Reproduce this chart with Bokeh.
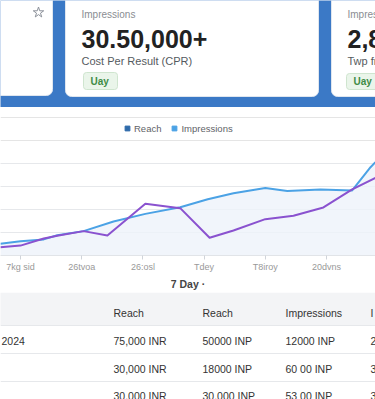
from bokeh.plotting import figure
from bokeh.layouts import column
from bokeh.models import Range1d, FixedTicker, Grid, Legend, LegendItem, Span
from bokeh.core.properties import value
from bokeh.embed import file_html
from bokeh.resources import INLINE

FONT = "Liberation Sans"
W = 375
BLUE = "#3b79c6"

# ---------------- data ----------------
days = [-0.33, 0, 0.38, 0.6, 1.03, 1.52, 2.04, 2.61, 3.06, 3.48, 4.0, 4.36, 4.9, 5.42, 5.72, 5.8]
impressions = [5.1, 6.2, 7.0, 8.8, 10.6, 14.8, 18.1, 21.0, 24.5, 27.1, 29.4, 28.1, 28.7, 28.3, 38.4, 40.6]
reach_days = [-0.33, 0, 0.38, 0.6, 1.03, 1.42, 2.04, 2.61, 3.09, 3.48, 4.0, 4.46, 4.95, 5.42, 5.8]
reach = [3.6, 4.3, 7.4, 8.6, 10.6, 8.7, 22.5, 20.6, 7.7, 10.9, 15.8, 17.3, 20.9, 28.8, 33.8]
tick_pos = [0, 1, 2, 3, 4, 5]
tick_labels = ["7kg sid", "26tvoa", "26:osl", "Tdey", "T8iroy", "20dvns"]
grid_vals = [10, 20, 30, 40]
legend_labels = ["Reach", "Impressions"]

card_titles = ["Impressions", "Impres"]
card_values = ["30.50,000+", "2,8"]
card_subtitles = ["Cost Per Result (CPR)", "Twp fr"]
card_badges = ["Uay", "Uay"]

table_header = ["", "Reach", "Reach", "Impressions", "I"]
table_rows = [
    ["2024", "75,000 INR", "50000 INP", "12000 INP", "2"],
    ["", "30,000 INR", "18000 INP", "60 00 INP", "3"],
    ["", "30,000 INR", "30,000 INP", "53 00 INP", "3"],
]


def bare(fig):
    fig.outline_line_color = None
    fig.xgrid.visible = False
    fig.ygrid.visible = False


# ---------------- top band with cards ----------------
top = figure(width=W, height=107, x_range=Range1d(0, W), y_range=Range1d(107, 0),
             toolbar_location=None, output_backend="svg", min_border=0,
             x_axis_location=None, y_axis_location=None)
bare(top)
top.background_fill_color = BLUE
top.border_fill_color = BLUE

card_left = [-10, 65, 331]
card_right = [52, 318, 395]
top.quad(left=card_left, right=card_right, top=[-10] * 3, bottom=[95, 96, 96],
         fill_color="white", line_color="#dfe6ef", line_width=1, border_radius=6)
top.scatter(x=[38], y=[12], marker="star", size=11, fill_color=None,
            line_color="#8c919a", line_width=1)

tx = [81, 347]
top.text(x=tx, y=[14, 14], text=card_titles, text_font=value(FONT),
         text_font_size="10px", text_color="#8a8d92", text_baseline="middle")
top.text(x=tx, y=[38, 38], text=card_values, text_font=value(FONT),
         text_font_size="25px", text_font_style="bold", text_color="#222222",
         text_baseline="middle")
top.text(x=tx, y=[60, 60], text=card_subtitles, text_font=value(FONT),
         text_font_size="11px", text_color="#555a60", text_baseline="middle")
top.quad(left=[83, 346], right=[117, 380], top=[72, 73], bottom=[89, 89],
         fill_color="#eaf5ea", line_color="#cfe5cf", border_radius=3)
top.text(x=[90, 353], y=[81, 81], text=card_badges, text_font=value(FONT),
         text_font_size="10px", text_font_style="bold", text_color="#3f8c46",
         text_baseline="middle")

# ---------------- line chart ----------------
p = figure(width=W, height=185, x_range=Range1d(-0.327, 5.801), y_range=Range1d(0, 60.9),
           toolbar_location=None, output_backend="svg", y_axis_location=None,
           min_border_left=0, min_border_right=0, min_border_top=8, min_border_bottom=37)
p.outline_line_color = None
p.xgrid.visible = False
p.add_layout(Grid(dimension=1, ticker=FixedTicker(ticks=grid_vals),
                  grid_line_color="#e6e8eb", grid_line_width=1))

p.varea(x=days, y1=[0] * len(days), y2=impressions, fill_color="#eef3fa", fill_alpha=0.8)
p.line(days, impressions, line_color="#4ba2e5", line_width=2, line_join="round")
p.line(reach_days, reach, line_color="#8a52cf", line_width=2, line_join="round")

xa = p.xaxis[0]
xa.ticker = FixedTicker(ticks=tick_pos)
xa.major_label_overrides = {k: v for k, v in zip(tick_pos, tick_labels)}
xa.minor_tick_line_color = None
xa.axis_line_color = "#e1e4e8"
xa.major_tick_line_color = "#d0d4da"
xa.major_tick_out = 4
xa.major_tick_in = 0
xa.major_label_standoff = 2
xa.major_label_text_font = FONT
xa.major_label_text_font_size = "9px"
xa.major_label_text_color = "#999999"
xa.axis_label = "7 Day \u00b7"
xa.axis_label_standoff = 3
xa.axis_label_text_font = FONT
xa.axis_label_text_font_size = "10.5px"
xa.axis_label_text_font_style = "bold"
xa.axis_label_text_color = "#444444"

# legend swatches (points placed outside the visible range)
r1 = p.scatter(x=[-5], y=[-5], marker="square", fill_color="#2e6aaa", line_color="#2e6aaa")
r2 = p.scatter(x=[-5], y=[-5], marker="square", fill_color="#4ba2e5", line_color="#4ba2e5")
legend = Legend(items=[LegendItem(label=legend_labels[0], renderers=[r1], index=0),
                       LegendItem(label=legend_labels[1], renderers=[r2], index=0)],
                orientation="horizontal", location=(121, 121),
                background_fill_alpha=0, border_line_color=None, padding=0, margin=0,
                spacing=7, glyph_width=12, glyph_height=12, label_standoff=1,
                label_height=12, label_text_font=FONT, label_text_font_size="9.5px",
                label_text_color="#5f6368")
p.add_layout(legend)

# ---------------- table ----------------
t = figure(width=W, height=107, x_range=Range1d(0, W), y_range=Range1d(107, 0),
           toolbar_location=None, output_backend="svg", min_border=0,
           x_axis_location=None, y_axis_location=None)
bare(t)
t.quad(left=[-5], right=[380], top=[0], bottom=[33], fill_color="#f3f4f6", line_color=None)
for loc in [33, 61, 89]:
    t.add_layout(Span(location=loc, dimension="width", line_color="#e6e8eb", line_width=1))

col_x = [1, 113, 202, 285, 370]
row_y = [20, 48, 76, 103]
all_rows = [table_header] + table_rows
xs, ys, txt = [], [], []
for j, row in enumerate(all_rows):
    for i, cell in enumerate(row):
        if cell:
            xs.append(col_x[i]); ys.append(row_y[j]); txt.append(cell)
t.text(x=xs, y=ys, text=txt, text_font=value(FONT), text_font_size="10.5px",
       text_color="#333333", text_baseline="middle")

layout = column(top, p, t, spacing=0)
open("out.html", "w").write(file_html(layout, INLINE))
